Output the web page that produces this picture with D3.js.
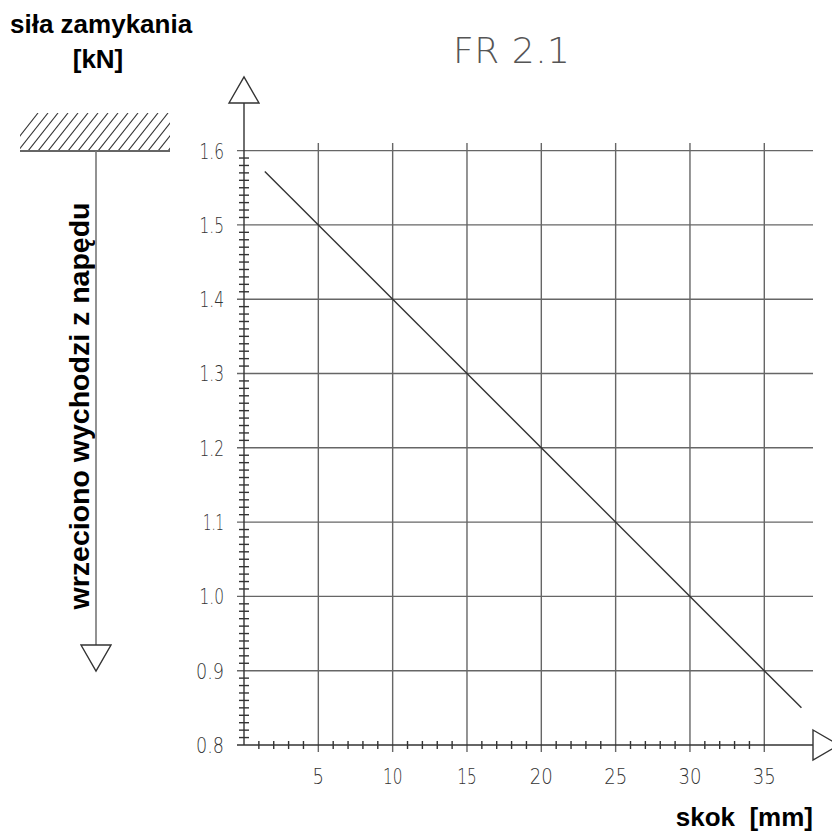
<html>
<head>
    <style>
        body { margin: 0; background: white; }
        text { font-family: 'Liberation Sans', Arial, sans-serif; }
        .lbl { font-weight: bold; font-size: 26px; fill: black; }
        .tick-lbl { font-family: 'DejaVu Sans', sans-serif; font-weight: 200; font-size: 22px; fill: #333; }
        .grid { stroke: #666; stroke-width: 1.4; }
        .ax { stroke: #333; stroke-width: 1.4; fill: none; }
    </style>
    <script src="https://d3js.org/d3.v7.min.js"></script>
</head>
<body>
<svg width="832" height="834"></svg>
<script>
    var xTicks = [5, 10, 15, 20, 25, 30, 35];
    var yTicks = [0.8, 0.9, 1.0, 1.1, 1.2, 1.3, 1.4, 1.5, 1.6];
    var lineData = [[1.4, 1.572], [37.5, 0.85]]; // skok [mm], siła [kN]

    var svg = d3.select('svg');
    var x = d3.scaleLinear().domain([0, 35]).range([244, 764.3]);
    var y = d3.scaleLinear().domain([0.8, 1.6]).range([745, 150.6]);
    var x0 = x(0), y0 = y(0.8);

    // narrow CAD-like digits
    function labelWidth(s) {
        var w = 0;
        s.split('').forEach(function (c) { w += c == '.' ? 5 : (c == '1' ? 8 : 11.5) });
        return w;
    }

    // grid
    svg.append('g').selectAll('line')
        .data(yTicks.slice(1)).enter().append('line')
        .attr('class', 'grid')
        .attr('x1', x0 - 7).attr('x2', 813)
        .attr('y1', function (d) { return y(d) }).attr('y2', function (d) { return y(d) });
    svg.append('g').selectAll('line')
        .data(xTicks).enter().append('line')
        .attr('class', 'grid')
        .attr('x1', function (d) { return x(d) }).attr('x2', function (d) { return x(d) })
        .attr('y1', 143).attr('y2', y0 + 7);

    // minor ticks
    var yMinor = d3.range(81, 160).map(function (d) { return d / 100 }).filter(function (d) { return Math.round(d * 100) % 10 != 0 });
    svg.append('g').selectAll('line')
        .data(yMinor).enter().append('line')
        .attr('class', 'ax')
        .attr('x1', x0 - 5).attr('x2', x0 + 5)
        .attr('y1', function (d) { return y(d) }).attr('y2', function (d) { return y(d) });
    var xMinor = d3.range(1, 35).filter(function (d) { return d % 5 != 0 });
    svg.append('g').selectAll('line')
        .data(xMinor).enter().append('line')
        .attr('class', 'ax')
        .attr('x1', function (d) { return x(d) }).attr('x2', function (d) { return x(d) })
        .attr('y1', y0 - 4).attr('y2', y0 + 4);

    // axes with arrows
    svg.append('line').attr('class', 'ax')
        .attr('x1', x0).attr('x2', x0).attr('y1', y0).attr('y2', 103);
    svg.append('path').attr('class', 'ax')
        .attr('d', 'M' + (x0 - 15) + ',103 L' + x0 + ',77 L' + (x0 + 15) + ',103 Z');
    svg.append('line').attr('class', 'ax')
        .attr('x1', x0 - 7).attr('x2', 813).attr('y1', y0).attr('y2', y0);
    svg.append('path').attr('class', 'ax')
        .attr('d', 'M813,' + (y0 - 15) + ' L839,' + y0 + ' L813,' + (y0 + 15) + ' Z');

    // tick labels
    svg.append('g').selectAll('text')
        .data(yTicks).enter().append('text')
        .attr('class', 'tick-lbl')
        .attr('x', 224).attr('y', function (d) { return y(d) })
        .attr('dy', '0.36em').attr('text-anchor', 'end')
        .attr('textLength', function (d) { return labelWidth(d.toFixed(1)) })
        .attr('lengthAdjust', 'spacingAndGlyphs')
        .text(function (d) { return d.toFixed(1) });
    svg.append('g').selectAll('text')
        .data(xTicks).enter().append('text')
        .attr('class', 'tick-lbl')
        .attr('x', function (d) { return x(d) }).attr('y', 784)
        .attr('text-anchor', 'middle')
        .attr('textLength', function (d) { return labelWidth(String(d)) })
        .attr('lengthAdjust', 'spacingAndGlyphs')
        .text(function (d) { return d });

    // data line
    svg.append('path')
        .datum(lineData)
        .attr('fill', 'none').attr('stroke', '#333').attr('stroke-width', 1.4)
        .attr('d', d3.line().x(function (d) { return x(d[0]) }).y(function (d) { return y(d[1]) }));

    // title
    svg.append('text').attr('x', 453).attr('y', 63)
        .style('font-family', "'DejaVu Sans', sans-serif").style('font-weight', 200)
        .style('font-size', '36px').attr('fill', '#555')
        .text('FR 2.1').attr('textLength', 117);

    // labels
    svg.append('text').attr('class', 'lbl').attr('x', 10).attr('y', 33).text('siła zamykania');
    svg.append('text').attr('class', 'lbl').attr('x', 98).attr('y', 68).attr('text-anchor', 'middle').text('[kN]');
    svg.append('text').attr('class', 'lbl').attr('x', 813).attr('y', 826)
        .attr('text-anchor', 'end').style('white-space', 'pre').text('skok  [mm]');
    svg.append('text').attr('class', 'lbl').style('font-size', '28.5px')
        .attr('transform', 'translate(89,406) rotate(-90)')
        .attr('text-anchor', 'middle').text('wrzeciono wychodzi z napędu');

    // hatched stop and spindle arrow
    var hatch = svg.append('g');
    hatch.append('clipPath').attr('id', 'hclip').append('rect')
        .attr('x', 20).attr('y', 113).attr('width', 150).attr('height', 37);
    hatch.append('g').attr('clip-path', 'url(#hclip)').selectAll('line')
        .data(d3.range(0, 19)).enter().append('line')
        .attr('stroke', '#333').attr('stroke-width', 1.1)
        .attr('x1', function (d) { return 8 + d * 10 }).attr('y1', 151)
        .attr('x2', function (d) { return 38 + d * 10 }).attr('y2', 113);
    hatch.append('line').attr('class', 'ax')
        .attr('x1', 20).attr('x2', 170).attr('y1', 151).attr('y2', 151);
    svg.append('line').attr('stroke', '#777').attr('stroke-width', 1.6)
        .attr('x1', 96).attr('x2', 96).attr('y1', 151).attr('y2', 645);
    svg.append('path').attr('class', 'ax')
        .attr('d', 'M81,645 L96,671 L111,645 Z');
</script>
</body>
</html>
